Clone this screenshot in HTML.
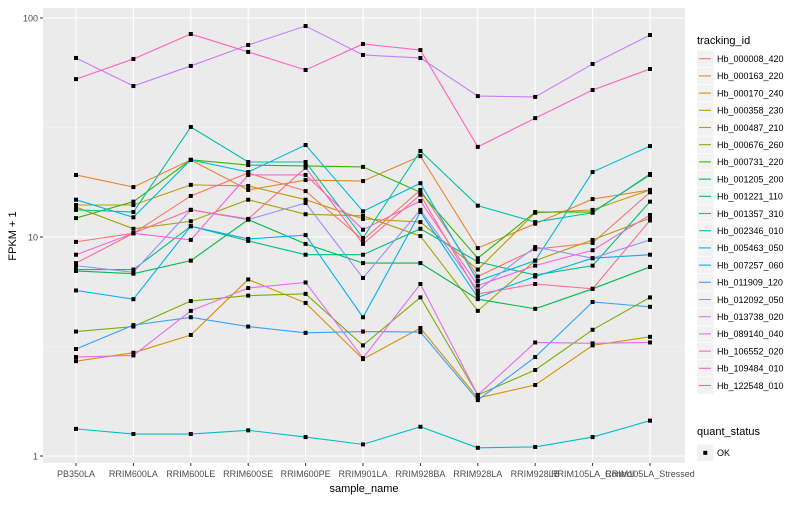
<!DOCTYPE html>
<html><head><meta charset="utf-8"><style>
body{margin:0;background:#fff;font-family:"Liberation Sans",sans-serif;}
svg text{font-family:"Liberation Sans",sans-serif;}
</style></head><body>
<svg id="chart" width="800" height="500" xmlns="http://www.w3.org/2000/svg">
<rect x="0" y="0" width="800" height="500" fill="#fff"/>
<rect x="43" y="8" width="642" height="455" fill="#EBEBEB"/>
<g id="grid"></g><g id="lines"></g><g id="pts"></g><g id="axes"></g><g id="legend"></g>
</svg>
<script>
const categories=["PB350LA","RRIM600LA","RRIM600LE","RRIM600SE","RRIM600PE","RRIM901LA","RRIM928BA","RRIM928LA","RRIM928LB","RRIM105LA_Control","RRIM105LA_Stressed"];
const seriesNames=["Hb_000008_420","Hb_000163_220","Hb_000170_240","Hb_000358_230","Hb_000487_210","Hb_000676_260","Hb_000731_220","Hb_001205_200","Hb_001221_110","Hb_001357_310","Hb_002346_010","Hb_005463_050","Hb_007257_060","Hb_011909_120","Hb_012092_050","Hb_013738_020","Hb_089140_040","Hb_106552_020","Hb_109484_010","Hb_122548_010"];
const s000008=[9.5,10.4,15.4,19.6,16.2,9.7,16.4,6.6,8.8,9.4,16.0];
const s000163=[19.2,16.9,22.5,16.4,18.2,18.0,23.4,8.9,11.5,14.9,16.4];
const s000170=[2.71,2.96,3.57,6.4,5.0,2.77,3.84,1.84,2.11,3.2,3.5];
const s000358=[14.0,14.0,17.3,17.1,14.8,12.1,11.7,7.1,12.9,13.3,16.4];
const s000487=[13.7,10.9,11.8,14.8,12.7,12.5,10.1,4.6,7.8,9.7,12.2];
const s000676=[3.7,3.9,5.1,5.4,5.5,3.2,5.3,1.9,2.47,3.77,5.3];
const s000731=[12.2,14.5,22.5,21.3,21.1,20.9,16.0,8.0,13.0,13.0,19.2];
const s001205=[7.0,6.8,7.8,12.0,9.3,7.6,7.6,5.2,4.7,5.8,7.3];
const s001221=[7.1,7.1,11.2,9.6,8.3,8.3,10.9,7.7,6.7,7.4,14.5];
const s001357=[13.3,13.0,31.8,22.0,22.0,9.9,24.7,13.9,11.7,12.9,19.4];
const s002346=[1.33,1.26,1.26,1.31,1.22,1.13,1.36,1.09,1.10,1.22,1.45];
const s005463=[14.8,12.3,22.5,19.8,26.3,13.1,17.6,6.3,7.8,19.8,26.0];
const s007257=[5.7,5.2,11.2,9.8,10.2,4.3,13.0,5.3,6.6,8.0,8.3];
const s011909=[3.08,3.96,4.3,3.9,3.65,3.7,3.68,1.80,2.83,5.05,4.8];
const s012092=[7.4,6.9,13.3,12.0,14.3,6.5,13.3,5.7,9.0,8.0,9.7];
const s013738=[65.7,48.9,60.4,75.3,91.9,67.8,65.7,44.0,43.6,61.7,83.6];
const s089140=[2.83,2.88,4.6,5.85,6.2,2.8,6.1,1.9,3.3,3.27,3.3];
const s106552=[8.3,10.4,9.7,19.2,19.2,10.8,14.6,6.0,7.4,8.7,12.6];
const s109484=[52.6,65.0,84.5,70.0,57.9,76.1,71.4,25.8,34.9,46.9,58.5];
const s122548=[7.6,10.4,13.3,12.1,20.7,9.3,15.6,5.5,6.1,5.8,11.9];
const allSeries=[s000008,s000163,s000170,s000358,s000487,s000676,s000731,s001205,s001221,s001357,s002346,s005463,s007257,s011909,s012092,s013738,s089140,s106552,s109484,s122548];
const colors=["#F8766D","#EA8331","#D89000","#C09B00","#A3A500","#7CAE00","#39B600","#00BB4E","#00BF7D","#00C1A3","#00BFC4","#00BAE0","#00B0F6","#35A2FF","#9590FF","#C77CFF","#E76BF3","#FA62DB","#FF62BC","#FF6C91"];
const yTicks=[1,10,100];
const yTickLabels=["1","10","100"];

const NS="http://www.w3.org/2000/svg";
function mk(tag,attrs,parent){const e=document.createElementNS(NS,tag);for(const k in attrs)e.setAttribute(k,attrs[k]);parent.appendChild(e);return e;}
const x0=76,dx=57.4;
function xs(i){return x0+i*dx;}
function ys(v){return 456-219*Math.log10(v);}
const grid=document.getElementById('grid'),lines=document.getElementById('lines'),pts=document.getElementById('pts'),axes=document.getElementById('axes'),legend=document.getElementById('legend');
// minor grid
for(let i=0;i<yTicks.length-1;i++){const y=(ys(yTicks[i])+ys(yTicks[i+1]))/2;
 const g=mk('line',{x1:43,x2:685,y1:y,y2:y,stroke:'#F5F5F5','stroke-width':0.6},grid);
 
 }
yTicks.forEach((t,i)=>{const y=ys(t);
 const g=mk('line',{x1:43,x2:685,y1:y,y2:y,stroke:'#fff','stroke-width':1.1},grid);
 
 
 mk('line',{x1:40,x2:43,y1:y,y2:y,stroke:'#333','stroke-width':1},axes);
 const tx=mk('text',{x:38,y:y+3.5,'text-anchor':'end','font-size':9,fill:'#4D4D4D'},axes);
 tx.textContent=yTickLabels[i];
 
 });
categories.forEach((c,i)=>{const x=xs(i);
 const g=mk('line',{x1:x,x2:x,y1:8,y2:463,stroke:'#fff','stroke-width':1.1},grid);
 
 
 mk('line',{x1:x,x2:x,y1:463,y2:466,stroke:'#333','stroke-width':1},axes);
 const tx=mk('text',{x:x,y:477,'text-anchor':'middle','font-size':9,fill:'#4D4D4D'},axes);
 tx.textContent=c;
 
 });
const xt=mk('text',{x:364,y:492,'text-anchor':'middle','font-size':11,fill:'#000'},axes);xt.textContent='sample_name';


const yt=mk('text',{x:16,y:236,'text-anchor':'middle','font-size':11,fill:'#000',transform:'rotate(-90 16 236)'},axes);yt.textContent='FPKM + 1';


allSeries.forEach((s,si)=>{
 const p=mk('polyline',{points:s.map((v,i)=>xs(i)+','+ys(v)).join(' '),fill:'none',stroke:colors[si],'stroke-width':1.1},lines);
 
 
 s.forEach((v,i)=>{const r=mk('rect',{x:xs(i)-2,y:ys(v)-2,width:4,height:4,fill:'#000'},pts);
  
  });
});
// legend
const lt=mk('text',{x:697,y:44,'font-size':11,fill:'#000'},legend);lt.textContent='tracking_id';


seriesNames.forEach((n,i)=>{const cy=58.7+i*17.2;
 const g=mk('g',{},legend);
 
 
 mk('rect',{x:697,y:cy-8.3,width:16.6,height:16.6,fill:'#F2F2F2'},g);
 mk('line',{x1:699,x2:711,y1:cy,y2:cy,stroke:colors[i],'stroke-width':1.1},g);
 const t=mk('text',{x:717,y:cy+3.3,'font-size':9,fill:'#000'},g);t.textContent=n;});
const qt=mk('text',{x:697,y:435,'font-size':11,fill:'#000'},legend);qt.textContent='quant_status';


const qg=mk('g',{},legend);


mk('rect',{x:697,y:444.5,width:16.6,height:16.6,fill:'#F2F2F2'},qg);
mk('rect',{x:703.3,y:450.8,width:4,height:4,fill:'#000'},qg);
const ok=mk('text',{x:717,y:456,'font-size':9,fill:'#000'},qg);ok.textContent='OK';
</script>
</body></html>
